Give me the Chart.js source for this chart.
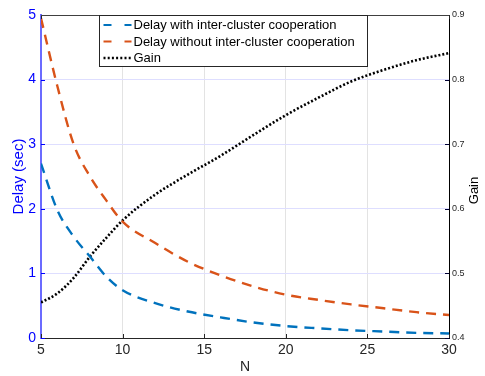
<!DOCTYPE html>
<html>
<head>
<meta charset="utf-8">
<script src="https://cdn.jsdelivr.net/npm/chart.js@4/dist/chart.umd.min.js"></script>
<style>
  html, body { margin: 0; padding: 0; background: #fff; }
  #wrap { width: 485px; height: 376px; }
</style>
</head>
<body>
<div id="wrap"><canvas id="grafico" width="485" height="376"></canvas></div>
<script>
// valores
const nValues = [5, 6, 7, 8, 9, 10, 12, 14, 16, 18, 20, 22, 24, 26, 28, 30];
const delayWith = [2.70, 1.98, 1.57, 1.26, 0.95, 0.74, 0.54, 0.41, 0.32, 0.24, 0.185, 0.15, 0.12, 0.10, 0.08, 0.07];
const delayWithout = [4.95, 3.90, 3.00, 2.50, 2.13, 1.80, 1.47, 1.18, 0.97, 0.80, 0.67, 0.59, 0.52, 0.46, 0.40, 0.355];
const gain = [0.455, 0.469, 0.493, 0.526, 0.555, 0.582, 0.622, 0.653, 0.682, 0.714, 0.745, 0.772, 0.797, 0.815, 0.830, 0.841];

const xTicks = [5, 10, 15, 20, 25, 30];
const delayTicks = [0, 1, 2, 3, 4, 5];
const gainTicks = [0.4, 0.5, 0.6, 0.7, 0.8, 0.9];

const labels = [
  'Delay with inter-cluster cooperation',
  'Delay without inter-cluster cooperation',
  'Gain'
];
const gainTitle = 'Gain';

const FONT = '"Liberation Sans", Arial, sans-serif';
const pts = arr => arr.map((v, i) => ({ x: nValues[i], y: v }));

// desenha a caixa, ticks internos, título da direita e a legenda
const boxPlugin = {
  id: 'boxPlugin',
  afterDatasetsDraw(chart) {
    const { ctx, chartArea: a, scales } = chart;
    ctx.save();
    // ticks para dentro
    ctx.lineWidth = 1;
    ctx.strokeStyle = '#262626';
    xTicks.forEach(t => {
      const x = Math.round(scales.x.getPixelForValue(t)) + 0.5;
      ctx.beginPath(); ctx.moveTo(x, a.bottom); ctx.lineTo(x, a.bottom - 4); ctx.stroke();
      ctx.beginPath(); ctx.moveTo(x, a.top); ctx.lineTo(x, a.top + 4); ctx.stroke();
    });
    ctx.strokeStyle = '#0000ff';
    delayTicks.forEach(t => {
      const y = Math.round(scales.y.getPixelForValue(t)) + 0.5;
      ctx.beginPath(); ctx.moveTo(a.left, y); ctx.lineTo(a.left + 4, y); ctx.stroke();
    });
    ctx.strokeStyle = '#000033';
    gainTicks.forEach(t => {
      const y = Math.round(scales.y2.getPixelForValue(t)) + 0.5;
      ctx.beginPath(); ctx.moveTo(a.right, y); ctx.lineTo(a.right - 4, y); ctx.stroke();
    });
    // borda superior
    ctx.strokeStyle = '#404040';
    ctx.beginPath(); ctx.moveTo(a.left, a.top + 0.5); ctx.lineTo(a.right, a.top + 0.5); ctx.stroke();

    // título do eixo da direita (lido de baixo para cima)
    ctx.save();
    ctx.translate(474, (a.top + a.bottom) / 2 + 14);
    ctx.rotate(-Math.PI / 2);
    ctx.font = '13px ' + FONT;
    ctx.fillStyle = '#000';
    ctx.textAlign = 'center';
    ctx.textBaseline = 'middle';
    ctx.fillText(gainTitle, 0, 0);
    ctx.restore();

    // legenda
    const lx = 99.5, ly = 15.5, lw = 268, lh = 51;
    ctx.fillStyle = '#fff';
    ctx.fillRect(lx, ly, lw, lh);
    ctx.strokeStyle = '#262626';
    ctx.lineWidth = 1;
    ctx.strokeRect(lx, ly, lw, lh);
    const styles = [
      { color: '#0072BD', dash: [8, 13], width: 2.2 },
      { color: '#D95319', dash: [8, 13], width: 2.2 },
      { color: '#000000', dash: [2, 2.2], width: 2.5 }
    ];
    ctx.font = '13px ' + FONT;
    ctx.textBaseline = 'middle';
    labels.forEach((txt, i) => {
      const y = ly + 9.5 + i * 16.5;
      const s = styles[i];
      ctx.strokeStyle = s.color;
      ctx.lineWidth = s.width;
      ctx.setLineDash(s.dash);
      ctx.beginPath(); ctx.moveTo(lx + 4, y); ctx.lineTo(lx + 32, y); ctx.stroke();
      ctx.setLineDash([]);
      ctx.fillStyle = '#000';
      ctx.fillText(txt, lx + 34, y + 0.5);
    });
    ctx.restore();
  }
};

new Chart(document.getElementById('grafico'), {
  type: 'line',
  data: {
    datasets: [
      {
        label: labels[0],
        data: pts(delayWith),
        borderColor: '#0072BD',
        borderWidth: 2.4,
        borderDash: [10, 7],
        pointRadius: 0,
        cubicInterpolationMode: 'monotone',
        yAxisID: 'y'
      },
      {
        label: labels[1],
        data: pts(delayWithout),
        borderColor: '#D95319',
        borderWidth: 2.4,
        borderDash: [10, 7],
        pointRadius: 0,
        cubicInterpolationMode: 'monotone',
        yAxisID: 'y'
      },
      {
        label: labels[2],
        data: pts(gain),
        borderColor: '#000000',
        borderWidth: 2.6,
        borderDash: [2, 2],
        pointRadius: 0,
        cubicInterpolationMode: 'monotone',
        yAxisID: 'y2'
      }
    ]
  },
  options: {
    responsive: false,
    animation: false,
    layout: { padding: { top: 15, left: 0, right: 0, bottom: 0 } },
    plugins: {
      legend: { display: false },
      tooltip: { enabled: false }
    },
    scales: {
      x: {
        type: 'linear',
        min: 5,
        max: 30,
        afterFit: s => { s.height = 38; },
        afterBuildTicks: s => { s.ticks = xTicks.map(v => ({ value: v })); },
        grid: { color: '#e3e3e3', drawTicks: false },
        border: { color: '#262626', width: 1 },
        ticks: {
          color: '#262626',
          padding: 4,
          font: { family: FONT, size: 14 }
        },
        title: {
          display: true,
          text: 'N',
          color: '#262626',
          padding: { top: 0, bottom: 0 },
          font: { family: FONT, size: 14 }
        }
      },
      y: {
        position: 'left',
        min: 0,
        max: 5,
        afterFit: s => { s.width = 41; },
        afterBuildTicks: s => { s.ticks = delayTicks.map(v => ({ value: v })); },
        grid: { color: '#dedeff', drawTicks: false },
        border: { color: '#6b6bff', width: 2 },
        ticks: {
          color: '#0000ff',
          padding: 5,
          font: { family: FONT, size: 14 }
        },
        title: {
          display: true,
          text: 'Delay (sec)',
          color: '#0000ff',
          padding: { top: 10, bottom: 0 },
          font: { family: FONT, size: 15 }
        }
      },
      y2: {
        position: 'right',
        min: 0.4,
        max: 0.9,
        afterFit: s => { s.width = 36; },
        afterBuildTicks: s => { s.ticks = gainTicks.map(v => ({ value: v })); },
        grid: { drawOnChartArea: false, drawTicks: false },
        border: { color: '#000000', width: 1 },
        ticks: {
          color: '#262626',
          padding: 3,
          callback: v => v.toFixed(1),
          font: { family: FONT, size: 9 }
        }
      }
    }
  },
  plugins: [boxPlugin]
});
</script>
</body>
</html>
